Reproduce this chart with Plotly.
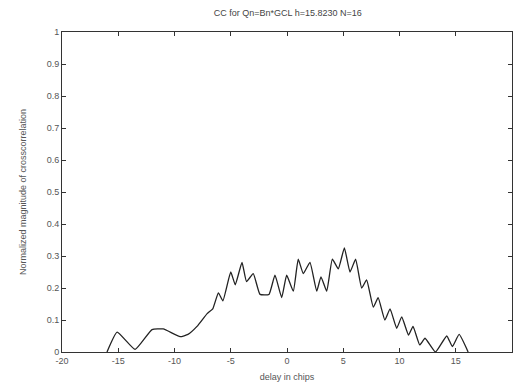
import plotly.graph_objects as go

delay = [-16.0, -15.1, -13.5, -12.0, -11.0, -9.5, -8.8, -8.0, -7.1, -6.6, -6.1, -5.7, -5.0, -4.6,
         -4.0, -3.6, -3.0, -2.4, -1.6, -1.07, -0.47, -0.03, 0.56, 1.0, 1.45, 2.04, 2.64, 3.02,
         3.53, 4.03, 4.56, 5.1, 5.6, 6.1, 6.64, 7.08, 7.67, 8.1, 8.7, 9.16, 9.75, 10.2, 10.8,
         11.2, 11.8, 12.27, 13.2, 14.2, 14.7, 15.3, 16.1]
magnitude = [0.0, 0.062, 0.008, 0.07, 0.072, 0.048, 0.055, 0.08, 0.12, 0.135, 0.185, 0.16, 0.25, 0.21,
             0.28, 0.22, 0.245, 0.18, 0.18, 0.24, 0.17, 0.24, 0.19, 0.29, 0.245, 0.28, 0.19, 0.235,
             0.19, 0.29, 0.26, 0.325, 0.25, 0.29, 0.2, 0.225, 0.14, 0.17, 0.10, 0.135, 0.074, 0.11, 0.053,
             0.08, 0.022, 0.043, 0.0, 0.05, 0.017, 0.055, 0.0]

x_ticks = [-20, -15, -10, -5, 0, 5, 10, 15, 20]
y_ticks = [0, 0.1, 0.2, 0.3, 0.4, 0.5, 0.6, 0.7, 0.8, 0.9, 1]
y_tick_labels = ["0", "0.1", "0.2", "0.3", "0.4", "0.5", "0.6", "0.7", "0.8", "0.9", "1"]

title_text = "CC for Qn=Bn*GCL h=15.8230 N=16"
x_title = "delay in chips"
y_title = "Normalized magnitude of crosscorrelation"

fig = go.Figure()
fig.add_trace(go.Scatter(x=delay, y=magnitude, mode="lines",
                         line=dict(color="#222222", width=1.3, shape="spline", smoothing=0.4),
                         showlegend=False))

axis_common = dict(showgrid=False, zeroline=False, showline=True, linecolor="#333333", linewidth=1,
                   mirror="ticks", ticks="inside", ticklen=4, tickcolor="#333333",
                   tickfont=dict(family="Liberation Sans", size=9, color="#555555"))

fig.update_layout(
    width=514, height=390,
    margin=dict(l=62, r=2, t=32, b=38),
    paper_bgcolor="white", plot_bgcolor="white",
    title=dict(text=title_text, x=0.56, xanchor="center", y=0.975, yanchor="top",
               font=dict(family="Liberation Sans", size=9, color="#444444")),
    xaxis=dict(range=[-20, 20], tickvals=x_ticks, ticktext=[str(v) for v in x_ticks],
               title=dict(text=x_title, standoff=8,
                          font=dict(family="Liberation Sans", size=9, color="#555555")),
               **axis_common),
    yaxis=dict(range=[0, 1], tickvals=y_ticks, ticktext=y_tick_labels,
               title=dict(text=y_title, standoff=18,
                          font=dict(family="Liberation Sans", size=9, color="#555555")),
               **axis_common),
)

fig.write_html("out.html")
